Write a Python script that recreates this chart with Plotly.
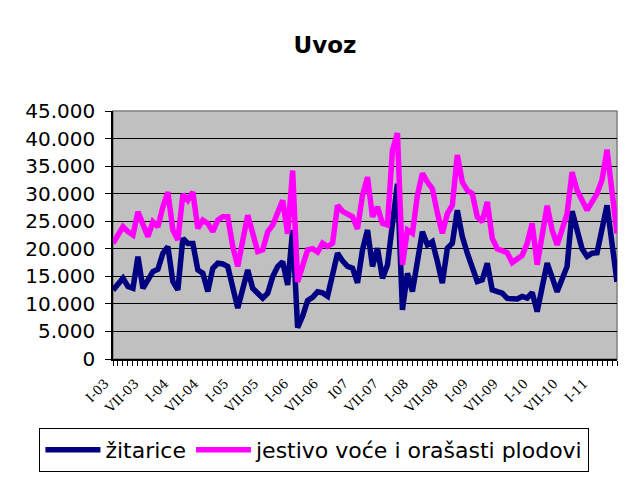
import plotly.graph_objects as go

tick_labels = ["I-03", "VII-03", "I-04", "VII-04", "I-05", "VII-05", "I-06", "VII-06",
               "I07", "VII-07", "I-08", "VII-08", "I-09", "VII-09", "I-10", "VII-10", "I-11"]

zitarice = [12500, 13600, 14650, 13150, 12840, 18570, 12840, 14350, 15860, 16280,
            19180, 20380, 14050, 12540, 21890, 20980, 20980, 16160, 15560, 12240,
            16460, 17370, 17250, 16760, 12900, 9230, 12700, 16160, 12840, 11940,
            11035, 11940, 14950, 16760, 17670, 13450, 23400, 5700, 7800, 10600,
            11200, 12200, 12000, 11400, 15000, 19200, 17800, 16800, 16500, 13800,
            19800, 23400, 16800, 20100, 14650, 17060, 24500, 31800, 8900, 15560,
            12240, 18000, 23100, 20700, 21300, 17700, 13750, 20100, 21000, 27000,
            22200, 19200, 16800, 14050, 14350, 17370, 12540, 12200, 11940, 11000,
            11040, 10900, 11340, 11040, 12060, 8600, 13000, 17400, 14800, 12200,
            14500, 16800, 26800, 23000, 20000, 18600, 19200, 19300, 24000, 27900,
            21000, 14000]

voce = [21000, 22500, 24000, 23100, 22500, 26700, 24500, 22200, 24900, 24000,
        27600, 30300, 23400, 21600, 29900, 28800, 30300, 23700, 25200, 24600,
        23100, 25200, 25800, 25800, 20400, 16800, 21500, 26100, 22800, 19500,
        19800, 23100, 24300, 26400, 28800, 22700, 34200, 14000, 17000, 19800,
        20000, 19400, 21000, 20400, 21000, 27900, 26800, 26200, 25800, 23600,
        29700, 33000, 25800, 27600, 24600, 24300, 37900, 41000, 17100, 23400,
        22800, 29700, 33700, 32100, 30900, 26500, 22800, 26400, 27900, 37000,
        32100, 30600, 30000, 25800, 24900, 28500, 21900, 20000, 19600, 19300,
        17500, 18200, 18800, 21000, 24600, 17100, 22500, 27800, 23400, 20700,
        23500, 26400, 33900, 30600, 28800, 27000, 28500, 30000, 32500, 38000,
        30400, 22800]

x = list(range(len(zitarice)))
tick_positions = list(range(0, len(zitarice), 6))[:len(tick_labels)]

fig = go.Figure()
fig.add_trace(go.Scatter(x=x, y=zitarice, mode="lines", name="žitarice",
                         line=dict(color="#000080", width=5.5)))
fig.add_trace(go.Scatter(x=x, y=voce, mode="lines", name="jestivo voće i orašasti plodovi",
                         line=dict(color="#FF00FF", width=5.5)))

fig.update_layout(
    width=625, height=477,
    margin=dict(l=113, r=8, t=111, b=118, autoexpand=False),
    paper_bgcolor="white",
    plot_bgcolor="#C0C0C0",
    separators=",.",
    title=dict(text="<b>Uvoz</b>", x=0.52, xref="container", xanchor="center",
               y=0.905, yref="container", yanchor="middle",
               font=dict(family="DejaVu Sans", size=23, color="black")),
    legend=dict(orientation="h", x=-0.146, xanchor="left", y=-0.455, yanchor="bottom",
                bordercolor="black", borderwidth=1, bgcolor="white",
                itemwidth=55,
                font=dict(family="DejaVu Sans", size=22, color="black")),
    showlegend=True,
)

fig.update_xaxes(
    range=[0, len(zitarice) - 1],
    tickmode="array", tickvals=tick_positions, ticktext=tick_labels,
    tickangle=-45,
    tickfont=dict(family="DejaVu Serif", size=13, color="black"),
    ticklabelshift=-8, ticklabelstandoff=5,
    ticks="outside", ticklen=5, tickcolor="black", tickwidth=1,
    minor=dict(dtick=1, tick0=0, ticks="outside", ticklen=5, tickcolor="black", tickwidth=1, showgrid=False),
    showline=True, linecolor="black", linewidth=1.5,
    showgrid=False, zeroline=False,
)
fig.update_yaxes(
    range=[0, 45000], dtick=5000, tick0=0,
    tickformat=",d",
    tickfont=dict(family="DejaVu Sans", size=20, color="black"),
    ticks="outside", ticklen=6, tickcolor="black", tickwidth=1,
    ticklabelstandoff=6,
    showline=True, linecolor="black", linewidth=1.5,
    showgrid=True, gridcolor="black", gridwidth=1,
    zeroline=False,
)

fig.add_shape(type="rect", xref="paper", yref="paper", x0=0, y0=0, x1=1, y1=1,
              line=dict(color="#808080", width=1.5), layer="below")

fig.write_html("out.html", config={"displayModeBar": False},
               post_script="document.body.style.margin='0';document.body.style.overflow='hidden';")
